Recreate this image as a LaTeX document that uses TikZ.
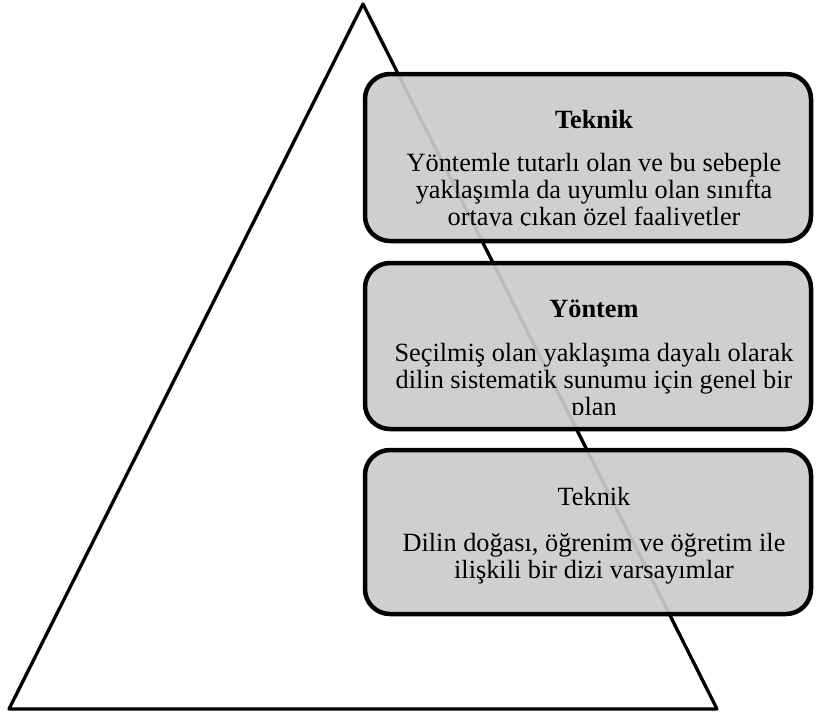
\documentclass[tikz,border=0pt]{standalone}
\usepackage{fontspec}
\setmainfont{Liberation Serif}
\begin{document}
\begin{tikzpicture}[x=1pt,y=-1pt,
  tri/.style={line width=3.3pt,line join=round},
  box/.style={line width=4.5pt,rounded corners=25pt},
  boxfill/.style={fill=panelgray,fill opacity=0.92},
  txt/.style={font=\fontsize{26.3}{26.7}\selectfont,align=center,anchor=base,inner sep=0pt},
  ttl/.style={txt,font=\fontsize{26.3}{26.7}\selectfont\bfseries}]
\definecolor{panelgray}{HTML}{CBCBCB}
\useasboundingbox (0,0) rectangle (816,717);

% pyramid
\coordinate (apex) at (363,4);
\coordinate (bl) at (9,709);
\coordinate (br) at (717,709);
\draw[tri] (apex) -- (bl) -- (br) -- cycle;

% three panels: corners
\coordinate (p1a) at (365,74);  \coordinate (p1b) at (811,241);
\coordinate (p2a) at (365,263); \coordinate (p2b) at (811,429);
\coordinate (p3a) at (365,450); \coordinate (p3b) at (811,614);

\foreach \a/\b in {p1a/p1b,p2a/p2b,p3a/p3b}{
  \path[box,boxfill] (\a) rectangle (\b);
}

% panel texts; the text frames of the first two panels are too short,
% so their last lines are cut off at the baseline
% (a multi-line node's base is the baseline of its last line)
\begin{scope}
  \clip (365,74) rectangle (811,225);
  \node[ttl] (t1) at (594,128) {Teknik};
  \node[txt] (d1) at (594,225) {Yöntemle tutarlı olan ve bu sebeple\\yaklaşımla da uyumlu olan sınıfta\\ortaya çıkan özel faaliyetler};
\end{scope}
\begin{scope}
  \clip (365,263) rectangle (811,414);
  \node[ttl] (t2) at (594,317) {Yöntem};
  \node[txt] (d2) at (594,415) {Seçilmiş olan yaklaşıma dayalı olarak\\dilin sistematik sunumu için genel bir\\plan};
\end{scope}
\node[txt] (t3) at (594,505) {Teknik};
\node[txt] (d3) at (594,578) {Dilin doğası, öğrenim ve öğretim ile\\ilişkili bir dizi varsayımlar};

% panel borders
\foreach \a/\b in {p1a/p1b,p2a/p2b,p3a/p3b}{
  \draw[box] (\a) rectangle (\b);
}
\end{tikzpicture}
\end{document}
